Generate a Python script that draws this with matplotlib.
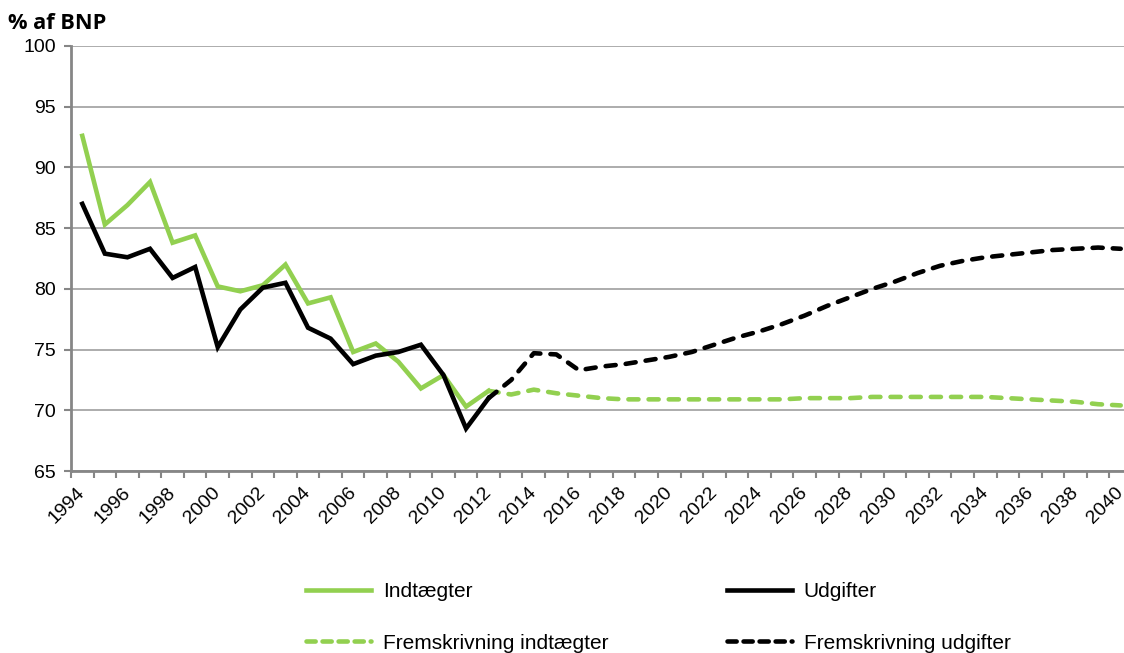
import matplotlib
matplotlib.use('Agg')
import matplotlib.pyplot as plt
import matplotlib.transforms as mtrans
from matplotlib.lines import Line2D

plt.rcParams['font.family'] = ['Liberation Sans', 'DejaVu Sans']

years = list(range(1994, 2041))
hist_years = list(range(1994, 2013))
proj_years = list(range(2012, 2041))

indt_hist = [92.6, 85.3, 86.9, 88.8, 83.8, 84.4, 80.2, 79.8, 80.3, 82.0,
             78.8, 79.3, 74.8, 75.5, 74.0, 71.8, 72.9, 70.3, 71.6]
udg_hist = [87.0, 82.9, 82.6, 83.3, 80.9, 81.8, 75.2, 78.3, 80.1, 80.5,
            76.8, 75.9, 73.8, 74.5, 74.8, 75.4, 72.9, 68.5, 71.0]
indt_proj = [71.6, 71.3, 71.7, 71.4, 71.2, 71.0, 70.9, 70.9, 70.9, 70.9,
             70.9, 70.9, 70.9, 70.9, 71.0, 71.0, 71.0, 71.1, 71.1, 71.1,
             71.1, 71.1, 71.1, 71.0, 70.9, 70.8, 70.7, 70.5, 70.4]
udg_proj = [71.0, 72.5, 74.7, 74.6, 73.3, 73.6, 73.8, 74.1, 74.4, 74.8,
            75.4, 76.0, 76.5, 77.1, 77.8, 78.6, 79.3, 80.0, 80.6, 81.3,
            81.9, 82.3, 82.6, 82.8, 83.0, 83.2, 83.3, 83.4, 83.3]
y_ticks = [65, 70, 75, 80, 85, 90, 95, 100]

green = '#92D050'
lw = 3.3
W, H = 1124, 653
fig = plt.figure(figsize=(W / 100, H / 100), dpi=100)
ax = fig.add_axes([71 / W, (H - 471) / H, (1132 - 71) / W, (471 - 46) / H])

xh = [years.index(y) for y in hist_years]
xp = [years.index(y) for y in proj_years]
ax.plot(xh, indt_hist, color=green, lw=lw, solid_joinstyle='miter', zorder=3)
ax.plot(xh, udg_hist, color='black', lw=lw, solid_joinstyle='miter', zorder=4)
ax.plot(xp, indt_proj, color=green, lw=lw, dashes=(2.2, 2.2), dash_capstyle='round', zorder=3)
ax.plot(xp, udg_proj, color='black', lw=lw, dashes=(2.2, 2.2), dash_capstyle='round', zorder=4)

ax.set_xlim(-0.5, len(years) - 0.5)
ax.set_ylim(65, 100)
ax.set_yticks(y_ticks)
ax.set_yticklabels([str(v) for v in y_ticks], fontsize=14)
ax.yaxis.grid(True, color='#A6A6A6', lw=1.3)
ax.set_axisbelow(True)

ax.set_xticks(range(0, len(years), 2))
ax.set_xticklabels([str(y) for y in years[::2]], fontsize=14, rotation=45,
                   ha='right', va='center', rotation_mode='anchor')
shift = mtrans.ScaledTranslation(-3 / 100, 0, fig.dpi_scale_trans)
for lab in ax.get_xticklabels():
    lab.set_transform(lab.get_transform() + shift)
ax.set_xticks([i - 0.5 for i in range(len(years) + 1)], minor=True)
ax.tick_params(axis='x', which='major', length=0, pad=14)
ax.tick_params(axis='x', which='minor', length=5, width=1.5, color='#868686')
ax.tick_params(axis='y', length=5, width=1.5, color='#868686', pad=6)

for s in ['top', 'right']:
    ax.spines[s].set_visible(False)
for s in ['left', 'bottom']:
    ax.spines[s].set_color('#868686')
    ax.spines[s].set_linewidth(2)

fig.text(8 / W, 1 - 29 / H, '% af BNP', fontsize=15.7, fontweight='bold',
         family=['Open Sans', 'DejaVu Sans'])

handles = [
    Line2D([], [], color=green, lw=lw),
    Line2D([], [], color=green, lw=lw, dashes=(2.0, 1.5), dash_capstyle='round'),
    Line2D([], [], color='black', lw=lw),
    Line2D([], [], color='black', lw=lw, dashes=(2.0, 1.5), dash_capstyle='round'),
]
labels = ['Indtægter', 'Fremskrivning indtægter', 'Udgifter', 'Fremskrivning udgifter']
fig.legend(handles, labels, ncol=2, loc='upper left', bbox_to_anchor=(306 / W, 1 - 582 / H),
           frameon=False, fontsize=15, handlelength=3.1, handletextpad=0.58,
           labelspacing=1.57, columnspacing=5.7, borderpad=0, borderaxespad=0)

fig.savefig('out.png', dpi=100)
